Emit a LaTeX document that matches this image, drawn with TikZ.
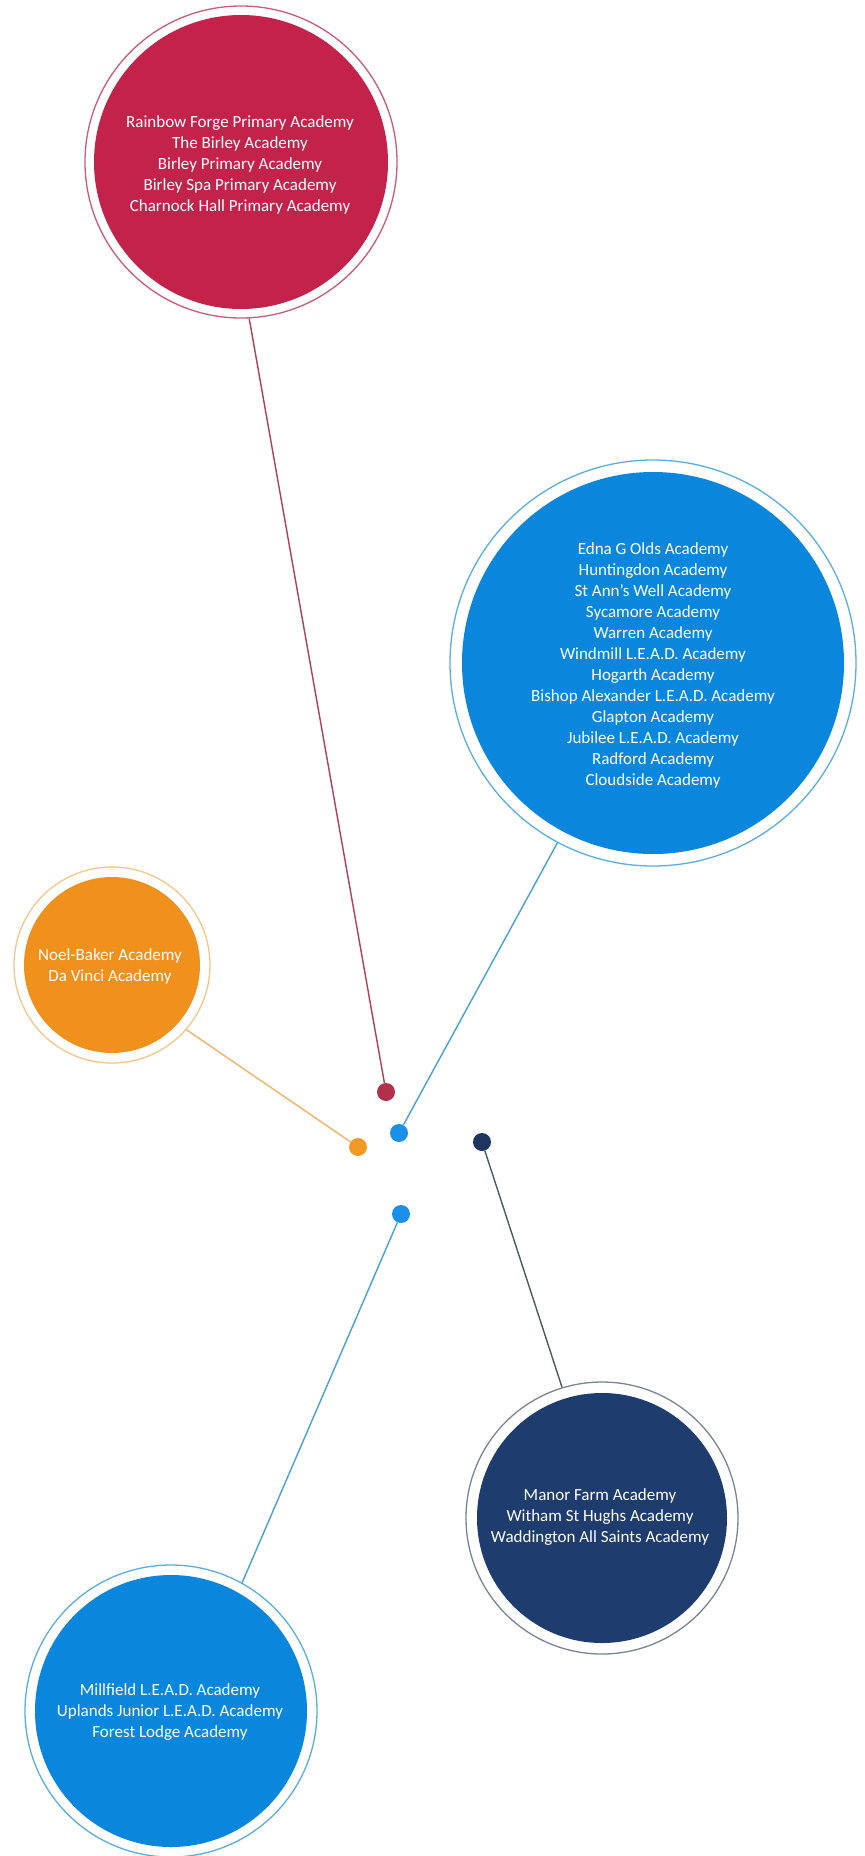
\documentclass[tikz,border=0pt]{standalone}
\usepackage{fontspec}
\setmainfont{Carlito}
\definecolor{redfill}{HTML}{C3234B}
\definecolor{redring}{HTML}{CC5A7C}
\definecolor{redline}{HTML}{B0405A}
\definecolor{reddotc}{HTML}{B3304A}
\definecolor{bluefill}{HTML}{0A87DC}
\definecolor{bluering}{HTML}{5AAEE0}
\definecolor{blueline}{HTML}{4AA0D8}
\definecolor{bluedotc}{HTML}{1A90E8}
\definecolor{orangefill}{HTML}{F0911E}
\definecolor{orangering}{HTML}{F2C88A}
\definecolor{orangeline}{HTML}{F0B468}
\definecolor{orangedotc}{HTML}{F39A26}
\definecolor{navyfill}{HTML}{1E3C6E}
\definecolor{navyring}{HTML}{7A8494}
\definecolor{navyline}{HTML}{4E5868}
\definecolor{navydotc}{HTML}{1E3560}
\begin{document}
\begin{tikzpicture}[x=1pt,y=-1pt,
  ring/.style={circle, draw=#1, line width=1.3pt, inner sep=0pt},
  schooltxt/.style={align=center, text=white, inner sep=0pt, font=\fontsize{17}{21}\selectfont},
  dotnode/.style={circle, fill=#1, minimum size=18pt, inner sep=0pt},
  conn/.style={draw=#1, line width=1.4pt}]
\fill[white] (0,0) rectangle (865,1856);
\useasboundingbox (0,0) rectangle (865,1856);

% red
\node[ring=redring, minimum size=312pt] (redc) at (241,162) {};
\fill[redfill] (redc.center) circle[radius=147pt];
\node[schooltxt] (redt) at (240,165) {Rainbow Forge Primary Academy\\The Birley Academy\\Birley Primary Academy\\Birley Spa Primary Academy\\Charnock Hall Primary Academy};

% big blue
\node[ring=bluering, minimum size=406pt] (bluec) at (653,663) {};
\fill[bluefill] (bluec.center) circle[radius=191pt];
\node[schooltxt] (bluet) at (653,665) {Edna G Olds Academy\\Huntingdon Academy\\St Ann's Well Academy\\Sycamore Academy\\Warren Academy\\Windmill L.E.A.D. Academy\\Hogarth Academy\\Bishop Alexander L.E.A.D. Academy\\Glapton Academy\\Jubilee L.E.A.D. Academy\\Radford Academy\\Cloudside Academy};

% orange
\node[ring=orangering, minimum size=196pt] (orangec) at (112,965) {};
\fill[orangefill] (orangec.center) circle[radius=88pt];
\node[schooltxt] (oranget) at (110,966) {Noel-Baker Academy\\Da Vinci Academy};

% navy
\node[ring=navyring, minimum size=272pt] (navyc) at (602,1518) {};
\fill[navyfill] (navyc.center) circle[radius=125pt];
\node[schooltxt] (navyt) at (600,1517) {Manor Farm Academy\\Witham St Hughs Academy\\Waddington All Saints Academy};

% bottom blue
\node[ring=bluering, minimum size=292pt] (blue2c) at (171,1711) {};
\fill[bluefill] (blue2c.center) circle[radius=136pt];
\node[schooltxt] (blue2t) at (170,1712) {Millfield L.E.A.D. Academy\\Uplands Junior L.E.A.D. Academy\\Forest Lodge Academy};

% dots
\node[dotnode=reddotc] (reddot) at (386,1092) {};
\node[dotnode=bluedotc] (bluedot1) at (399,1133) {};
\node[dotnode=orangedotc] (orangedot) at (358,1147) {};
\node[dotnode=navydotc] (navydot) at (482,1142) {};
\node[dotnode=bluedotc] (bluedot2) at (401,1214) {};

% connectors
\draw[conn=redline] (redc.273) -- (reddot);
\draw[conn=blueline] (bluec.242) -- (bluedot1);
\draw[conn=orangeline] (orangec.319) -- (orangedot);
\draw[conn=navyline] (navydot) -- (navyc.107);
\draw[conn=blueline] (bluedot2) -- (blue2c.61);
\end{tikzpicture}
\end{document}
